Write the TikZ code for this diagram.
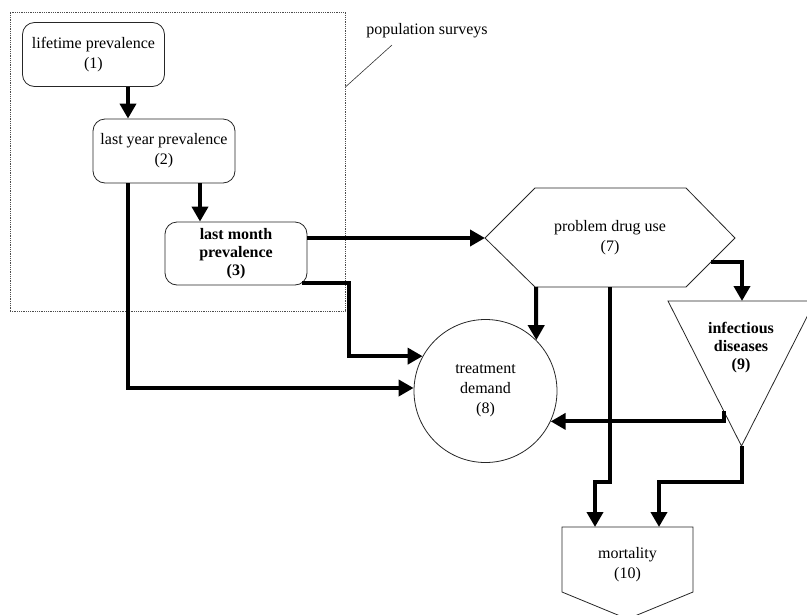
\documentclass[tikz,border=0pt]{standalone}
\usepackage{fontspec}
\setmainfont{Liberation Serif}
\usetikzlibrary{arrows.meta}
\begin{document}
\begin{tikzpicture}[x=1pt,y=-1pt,
  conn/.style={line width=4pt, -{Triangle[length=15pt,width=16pt]}},
  shp/.style={draw=black!85, line width=0.8pt},
  txt/.style={align=center, font=\fontsize{16}{20}\selectfont, inner sep=0pt},
  btxt/.style={align=center, font=\bfseries\fontsize{16}{18}\selectfont, inner sep=0pt},
  rbox/.style={shp, rounded corners=12pt, minimum width=142pt, minimum height=64pt, txt}]
\useasboundingbox (0,0) rectangle (807,614);
% population surveys box
\node[draw=black!70, densely dotted, line width=0.8pt, minimum width=335pt, minimum height=299pt, inner sep=0pt] (pop) at (177.5,161.5) {};
\node[txt] (lbl) at (427,31) {population surveys};
\coordinate (lead) at (392,45);
\draw[black!80, line width=0.6pt] ([yshift=74.5pt]pop.east) -- (lead);
% boxes
\node[rbox] (b1) at (93.5,54.5) {lifetime prevalence\\(1)};
\node[rbox] (b2) at (164,151) {last year prevalence\\(2)};
\node[rbox, btxt, minimum height=63pt] (b3) at (236,253.5) {last month\\prevalence\\(3)};
% hexagon
\draw[shp] (485,238) coordinate (h7w) -- (535,188) -- (686,188) -- (735,238) -- (686,287) -- (535,287) -- cycle;
\coordinate (h7a) at (536,287);
\coordinate (h7b) at (610,287);
\coordinate (h7r) at (711,262);
\node[txt] (t7) at (610,238) {problem drug use\\(7)};
% circle
\node[shp, circle, minimum size=143pt, txt] (c8) at (485.5,391) {treatment\\demand\\(8)};
% triangle
\draw[shp] (668,301) -- (815,301) -- (741.5,446) -- cycle;
\coordinate (t9n) at (742,301);
\coordinate (t9s) at (742,446);
\coordinate (t9l) at (724,411);
\node[btxt] (t9) at (741,348) {infectious\\diseases\\(9)};
% mortality
\draw[shp] (562,527) coordinate (m10) -- (693,527) -- (693,592) -- (627.5,619) -- (562,592) -- cycle;
\node[txt] (t10) at (627.5,565) {mortality\\(10)};
% connectors
\draw[conn] ([xshift=34.5pt]b1.south) -- ([xshift=34.5pt]b1.south |- b2.north);
\draw[conn] ([xshift=36pt]b2.south) -- ([xshift=36pt]b2.south |- b3.north);
\draw[conn] ([xshift=-36pt]b2.south) |- ([yshift=3pt]c8.west);
\draw[conn] (b3.east |- h7w) -- (h7w);
\draw[conn] ([xshift=-5pt,yshift=2pt]b3.south east) -- ++(47,0) |- (c8.151.6);
\draw[conn] (h7a) -- (c8.45);
\draw[conn] (h7b) -- ++(0,195) -| ([xshift=33pt]m10);
\draw[conn] (h7r) -| (t9n);
\draw[conn] (t9l) |- (c8.-25.7);
\draw[conn] (t9s) -- ++(0,36) -| ([xshift=97pt]m10);
\end{tikzpicture}
\end{document}
